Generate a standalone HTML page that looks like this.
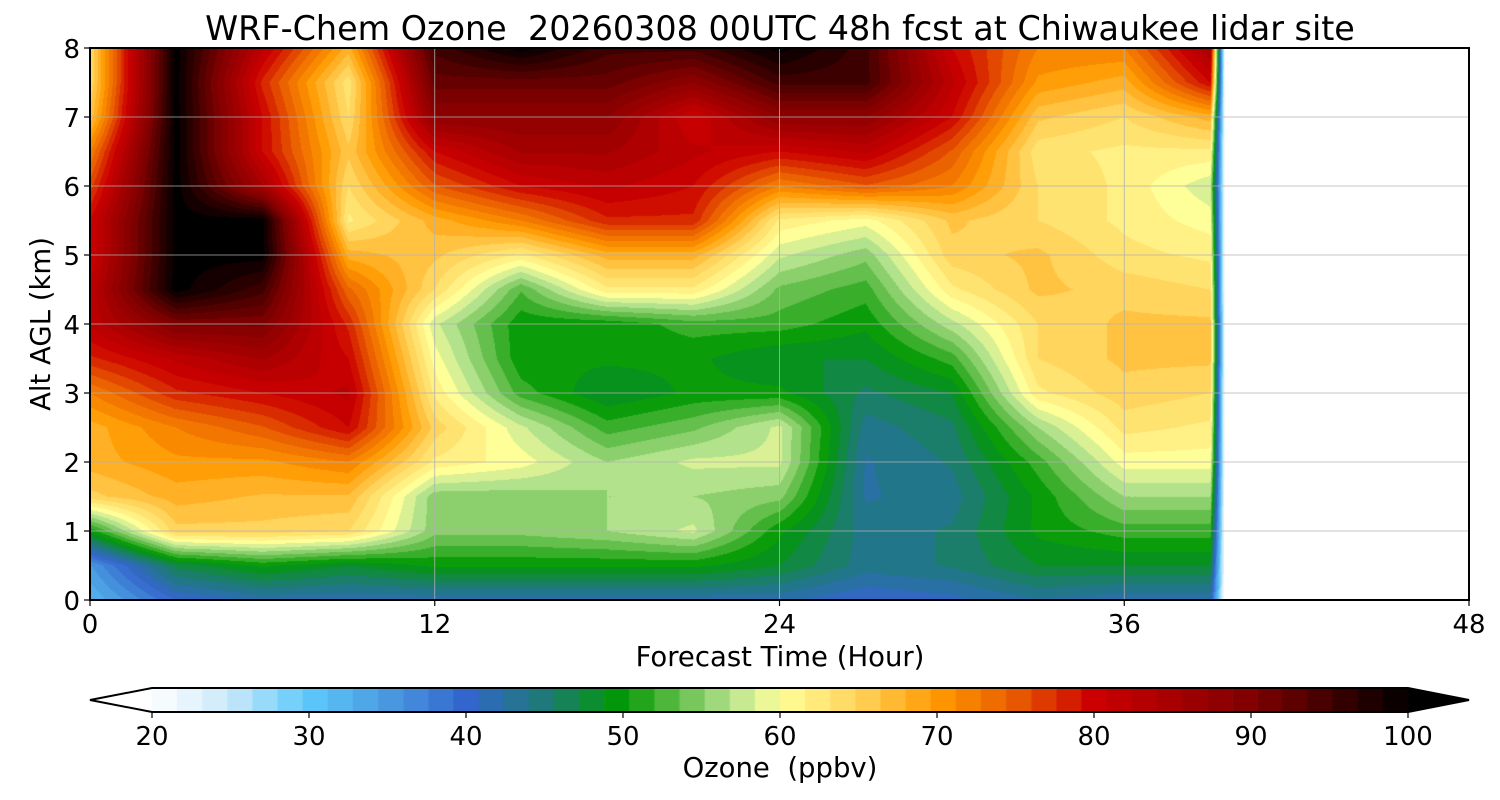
<!DOCTYPE html>
<html><head><meta charset="utf-8">
<style>
body{margin:0;background:#fff;font-family:"Liberation Sans","DejaVu Sans",sans-serif;}
#wrap{position:relative;width:1500px;height:800px;overflow:hidden;}
canvas{position:absolute;left:0;top:0;}
svg{position:absolute;left:0;top:0;}
text{font-family:"DejaVu Sans","Liberation Sans",sans-serif;fill:#000;white-space:pre;}
</style></head><body>
<div id="wrap">
<canvas id="cv" width="1500" height="800"></canvas>
<svg id="sv" width="1500" height="800"></svg>
</div>
<script>
// ---- data ----
const hours = [0,3,6,9,12,15,18,21,24,27,30,33,36,39,39.5];
const altitudes = [0,0.5,1,1.5,2,2.5,3,3.5,4,4.5,5,5.5,6,6.5,7,7.5,8];
const ozone_t0  = [32,35,50,65,68,68,72,78,82,82,80,80,76,72,66,64,64];
const ozone_t3  = [40,47,65,68,70,72,78,82,90,100,100,100,100,100,100,100,100];
const ozone_t6  = [42,50,65,67,70,75,80,85,90,95,100,100,85,80,80,78,82];
const ozone_t9  = [42,48,64,67,72,80,82,80,78,74,68,62,64,66,64,63,68];
const ozone_t12 = [42,50,55,55,62,65,62,60,58,64,66,68,75,80,88,92,95];
const ozone_t15 = [42,50,55,55,60,58,52,50,50,53,62,72,80,85,88,92,100];
const ozone_t18 = [42,50,56,56,56,52,48,50,50,62,68,78,82,85,88,92,95];
const ozone_t21 = [42,50,58,56,58,54,50,50,52,62,68,78,80,82,80,88,95];
const ozone_t24 = [42,48,50,55,58,58,50,48,52,54,58,62,72,80,88,95,100];
const ozone_t27 = [40,44,44,43,43,44,46,48,50,52,55,60,75,82,88,95,95];
const ozone_t30 = [41,45,45,44,45,46,48,52,57,62,65,66,72,75,80,82,80];
const ozone_t33 = [43,48,50,50,52,56,62,64,64,66,66,64,64,63,66,70,72];
const ozone_t36 = [42,48,52,56,60,63,65,66,66,65,63,62,62,62,64,68,72];
const ozone_t39 = [42,48,52,56,60,62,64,66,66,64,62,60,58,62,68,80,85];
const ozone_end = [20,20,20,20,20,20,20,20,20,20,20,20,20,20,20,20,20];
const xTicks = [0,12,24,36,48];
const yTicks = [0,1,2,3,4,5,6,7,8];
const cbTicks = [20,30,40,50,60,70,80,90,100];

const cols=[ozone_t0,ozone_t3,ozone_t6,ozone_t9,ozone_t12,ozone_t15,ozone_t18,ozone_t21,ozone_t24,ozone_t27,ozone_t30,ozone_t33,ozone_t36,ozone_t39,ozone_end];
const PL=90,PR=1469,PT=48,PB=600;
const xs=h=>PL+(h/48)*(PR-PL);
const ys=a=>PB-(a/8)*(PB-PT);
const stops=[[20,'#ffffff'],[25,'#c8e8fa'],[30,'#5cc8fa'],[35,'#4a9ae0'],[40,'#3366cc'],[45,'#1e7a78'],[50,'#009900'],[53,'#55b840'],[57,'#b8e490'],[60,'#ffff99'],[65,'#ffd35a'],[70,'#ff9900'],[75,'#e85a00'],[80,'#cc0000'],[90,'#800000'],[100,'#000000']];
function hex(h){return [1,3,5].map(i=>parseInt(h.substr(i,2),16));}
function cmap(v){v=Math.max(20,Math.min(100,v));
 for(let i=0;i<stops.length-1;i++){const a=stops[i],b=stops[i+1];
  if(v<=b[0]){const f=(v-a[0])/(b[0]-a[0]);const c1=hex(a[1]),c2=hex(b[1]);return c1.map((c,k)=>Math.round(c+(c2[k]-c)*f));}}
 return [0,0,0];}
function q(v){return Math.floor(v/1.6)*1.6+0.8;}
function sample(h,a){
 let i=0;while(i<hours.length-2&&h>hours[i+1])i++;
 let j=0;while(j<altitudes.length-2&&a>altitudes[j+1])j++;
 const fx=Math.max(0,Math.min(1,(h-hours[i])/(hours[i+1]-hours[i])));
 const fy=Math.max(0,Math.min(1,(a-altitudes[j])/(altitudes[j+1]-altitudes[j])));
 const v00=cols[i][j],v10=cols[i+1][j],v01=cols[i][j+1],v11=cols[i+1][j+1];
 return (v00*(1-fx)+v10*fx)*(1-fy)+(v01*(1-fx)+v11*fx)*fy;}
const cv=document.getElementById('cv');const ctx=cv.getContext('2d');
const x0=Math.round(PL),x1=Math.round(xs(hours[hours.length-1]));
const img=ctx.createImageData(x1-x0,PB-PT);
for(let py=0;py<PB-PT;py++){const a=(PB-(PT+py+0.5))/(PB-PT)*8;
 for(let px=0;px<x1-x0;px++){const h=(x0+px+0.5-PL)/(PR-PL)*48;
  const c=cmap(q(sample(h,a)));const k=(py*(x1-x0)+px)*4;
  img.data[k]=c[0];img.data[k+1]=c[1];img.data[k+2]=c[2];img.data[k+3]=255;}}
ctx.putImageData(img,x0,PT);
// colorbar
const CL=152,CR=1408,CT=688,CB=712;
const cbx=v=>CL+(v-20)/80*(CR-CL);
for(let v=20;v<99.9;v+=1.6){const c=cmap(v+0.8);ctx.fillStyle=`rgb(${c})`;const xe=Math.min(CR,cbx(v+1.6)+0.6);ctx.fillRect(cbx(v),CT,xe-cbx(v),CB-CT);}
ctx.fillStyle='#fff';ctx.beginPath();ctx.moveTo(90,700);ctx.lineTo(CL,CT);ctx.lineTo(CL,CB);ctx.fill();
ctx.fillStyle='#000';ctx.beginPath();ctx.moveTo(1469,700);ctx.lineTo(CR,CT);ctx.lineTo(CR,CB);ctx.fill();

const sv=document.getElementById('sv');const NS='http://www.w3.org/2000/svg';
function el(t,at,txt){const e=document.createElementNS(NS,t);for(const k in at)e.setAttribute(k,at[k]);if(txt!==undefined)e.textContent=txt;sv.appendChild(e);return e;}
xTicks.forEach(t=>{
 const g=el('line',{x1:xs(t),x2:xs(t),y1:PT,y2:PB,stroke:'#b0b0b0','stroke-width':0.8});
 
 
 el('line',{x1:xs(t),x2:xs(t),y1:PB,y2:PB+6,stroke:'#000','stroke-width':1.2});
 const l=el('text',{x:xs(t),y:PB+33,'font-size':26,'text-anchor':'middle'},t);
 
 
});
yTicks.forEach(t=>{
 const g=el('line',{x1:PL,x2:PR,y1:ys(t),y2:ys(t),stroke:'#b0b0b0','stroke-width':0.8});
 
 
 el('line',{x1:PL-6,x2:PL,y1:ys(t),y2:ys(t),stroke:'#000','stroke-width':1.2});
 const l=el('text',{x:PL-10,y:ys(t)+10,'font-size':26,'text-anchor':'end'},t);
 
 
});
const fr=el('rect',{x:PL,y:PT,width:PR-PL,height:PB-PT,fill:'none',stroke:'#000','stroke-width':2});


const ti=el('text',{x:780,y:40,'font-size':33.4,'text-anchor':'middle'},'WRF-Chem Ozone  20260308 00UTC 48h fcst at Chiwaukee lidar site');


const xl=el('text',{x:780,y:666,'font-size':27.5,'text-anchor':'middle'},'Forecast Time (Hour)');


const yl=el('text',{x:0,y:0,'font-size':27.5,'text-anchor':'middle',transform:'translate(50,324) rotate(-90)'},'Alt AGL (km)');


const cbo=el('polygon',{points:`90,700 ${CL},${CT} ${CR},${CT} 1469,700 ${CR},${CB} ${CL},${CB}`,fill:'none',stroke:'#000','stroke-width':2});


cbTicks.forEach(t=>{
 el('line',{x1:cbx(t),x2:cbx(t),y1:CB,y2:CB+6,stroke:'#000','stroke-width':1.2});
 const l=el('text',{x:cbx(t),y:CB+33,'font-size':26,'text-anchor':'middle'},t);
 
 
});
const cl=el('text',{x:780,y:777,'font-size':27.5,'text-anchor':'middle'},'Ozone  (ppbv)');


</script>
</body></html>
